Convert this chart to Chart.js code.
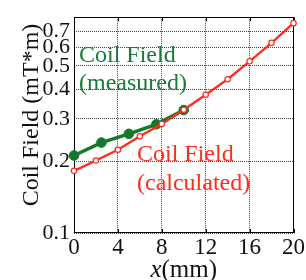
<!DOCTYPE html>
<html>
<head>
<meta charset="utf-8">
<script src="https://cdn.jsdelivr.net/npm/chart.js@4/dist/chart.umd.min.js"></script>
<style>
  html, body { margin: 0; padding: 0; background: #fff; }
  #wrap { width: 306px; height: 280px; position: relative; }
</style>
</head>
<body>
<div id="wrap"><canvas id="c"></canvas></div>
<script>
// ---- data ----
const calcX = [0, 2, 4, 6, 8, 10, 12, 14, 16, 18, 20];
const calcY = [0.182, 0.201, 0.223, 0.254, 0.286, 0.328, 0.379, 0.440, 0.523, 0.625, 0.755];
const measX = [0, 2.5, 5, 7.5, 10];
const measY = [0.211, 0.239, 0.260, 0.285, 0.327];
const yTickValues = [0.1, 0.2, 0.3, 0.4, 0.5, 0.6, 0.7];
const xTickValues = [0, 4, 8, 12, 16, 20];
const yTitle = 'Coil Field (mT*m)';
const xTitleVar = 'x';
const xTitleUnit = '(mm)';
const measLabel = ['Coil Field', '(measured)'];
const calcLabel = ['Coil Field', '(calculated)'];

const RED = '#ff2b1c';
const GREEN = '#15782d';
const GREEN_TXT = '#1b7a38';
const SERIF = '"Liberation Serif", "Times New Roman", serif';

const extras = {
  id: 'extras',
  beforeDatasetsDraw(chart) {
    const {ctx, chartArea: a, scales} = chart;
    ctx.save();
    ctx.strokeStyle = '#000';
    ctx.lineWidth = 1;
    xTickValues.forEach(v => {
      const px = Math.round(scales.x.getPixelForValue(v)) + 0.5;
      ctx.beginPath();
      ctx.moveTo(px, a.bottom); ctx.lineTo(px, a.bottom - 4);
      ctx.moveTo(px, a.top); ctx.lineTo(px, a.top + 4);
      ctx.stroke();
    });
    ctx.strokeRect(Math.round(a.left) + 0.5, Math.round(a.top) + 0.5,
                   Math.round(a.right - a.left) - 1, Math.round(a.bottom - a.top) - 1);
    ctx.restore();
  },
  afterDraw(chart) {
    const {ctx, chartArea: a} = chart;
    ctx.save();
    ctx.textBaseline = 'alphabetic';
    ctx.textAlign = 'left';
    ctx.font = '24px ' + SERIF;
    ctx.fillStyle = GREEN_TXT;
    ctx.fillText(measLabel[0], a.left + 5, 62);
    ctx.fillText(measLabel[1], a.left + 5, 90);
    ctx.fillStyle = RED;
    ctx.fillText(calcLabel[0], a.left + 63, 161);
    ctx.fillText(calcLabel[1], a.left + 63, 190);
    // x axis title with italic variable
    const fi = 'italic 25px ' + SERIF, fn = '25px ' + SERIF;
    ctx.font = fi; const w1 = ctx.measureText(xTitleVar).width;
    ctx.font = fn; const w2 = ctx.measureText(xTitleUnit).width;
    const cx = (a.left + a.right) / 2;
    const x0 = cx - (w1 + w2) / 2;
    ctx.fillStyle = '#111';
    ctx.font = fi; ctx.fillText(xTitleVar, x0, 277);
    ctx.font = fn; ctx.fillText(xTitleUnit, x0 + w1, 277);
    // y axis title, rotated
    ctx.font = '24px ' + SERIF;
    ctx.translate(38, 115);
    ctx.rotate(-Math.PI / 2);
    ctx.textAlign = 'center';
    ctx.fillText(yTitle, 0, 0);
    ctx.restore();
  }
};

new Chart(document.getElementById('c'), {
  type: 'line',
  data: {
    datasets: [
      {
        label: 'Coil Field (calculated)',
        data: calcX.map((x, i) => ({x, y: calcY[i]})),
        borderColor: RED,
        borderWidth: 2.3,
        pointRadius: 2.7,
        pointBackgroundColor: '#fff',
        pointBorderColor: RED,
        pointBorderWidth: 1.2,
        clip: false,
        order: 0
      },
      {
        label: 'Coil Field (measured)',
        data: measX.map((x, i) => ({x, y: measY[i]})),
        borderColor: GREEN,
        borderWidth: 3.5,
        pointRadius: 4.8,
        pointBackgroundColor: GREEN,
        pointBorderColor: GREEN,
        pointBorderWidth: 1,
        clip: false,
        order: 1
      }
    ]
  },
  options: {
    responsive: true,
    maintainAspectRatio: false,
    animation: false,
    devicePixelRatio: 1,
    layout: { padding: { left: 0, right: 10, top: 12, bottom: 0 } },
    plugins: { legend: { display: false }, tooltip: { enabled: false } },
    scales: {
      x: {
        type: 'linear',
        min: 0, max: 20,
        afterBuildTicks: s => { s.ticks = xTickValues.map(v => ({value: v})); },
        afterFit: s => { s.height = 47; },
        ticks: { font: { family: SERIF, size: 23 }, color: '#111', padding: 1, maxRotation: 0 },
        grid: { color: '#444', lineWidth: 1, drawTicks: false },
        border: { display: false, dash: [1, 1] },
        title: { display: false }
      },
      y: {
        type: 'logarithmic',
        min: 0.1, max: 0.8,
        afterBuildTicks: s => { s.ticks = yTickValues.map(v => ({value: v})); },
        afterFit: s => { s.width = 74; },
        ticks: {
          font: { family: SERIF, size: 22 }, color: '#111', padding: 4,
          callback: v => String(v)
        },
        grid: { color: '#444', lineWidth: 1, drawTicks: false },
        border: { display: false, dash: [1, 1] },
        title: { display: false }
      }
    }
  },
  plugins: [extras]
});
</script>
</body>
</html>
